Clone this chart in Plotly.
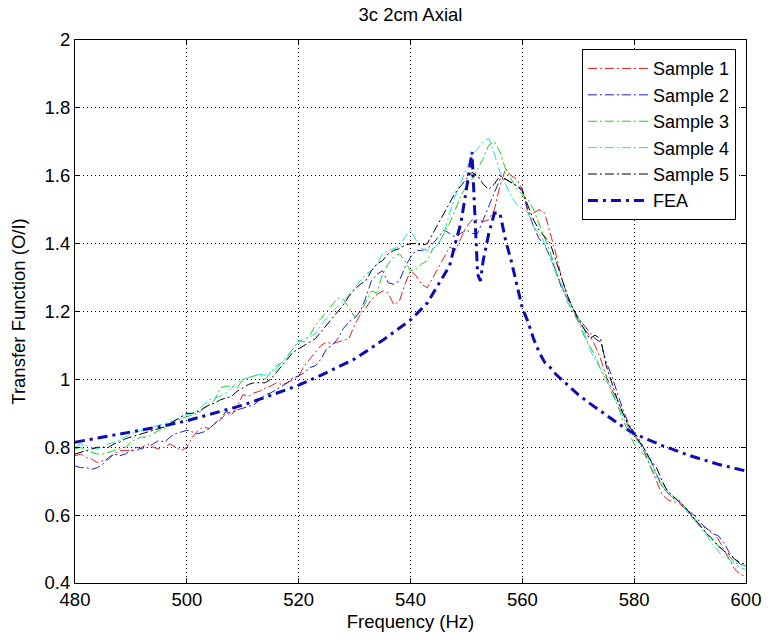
import plotly.graph_objects as go

# Measured frequency grid (Hz), 1 Hz steps
freq = list(range(480, 601))

sample_1 = [
    0.775, 0.78, 0.77, 0.765, 0.755, 0.76, 0.765, 0.78, 0.79, 0.79,
    0.79, 0.79, 0.80, 0.81, 0.80, 0.795, 0.80, 0.81, 0.80, 0.79,
    0.80, 0.83, 0.85, 0.86, 0.855, 0.87, 0.88, 0.90, 0.895, 0.92,
    0.955, 0.95, 0.96, 0.965, 0.975, 0.98, 0.99, 0.985, 0.99, 1.00,
    1.01, 1.04, 1.06, 1.08, 1.10, 1.11, 1.105, 1.11, 1.115, 1.12,
    1.16, 1.19, 1.21, 1.235, 1.25, 1.26, 1.255, 1.22, 1.23, 1.28,
    1.32, 1.305, 1.28, 1.27, 1.30, 1.33, 1.36, 1.39, 1.38, 1.415,
    1.45, 1.47, 1.47, 1.465, 1.47, 1.50, 1.57, 1.62, 1.60, 1.59,
    1.56, 1.49, 1.49, 1.50, 1.49, 1.43, 1.37, 1.30, 1.25, 1.21,
    1.17, 1.15, 1.13, 1.10, 1.06, 1.01, 0.97, 0.94, 0.90, 0.86,
    0.84, 0.81, 0.78, 0.74, 0.70, 0.66, 0.645, 0.64, 0.635, 0.62,
    0.60, 0.585, 0.57, 0.56, 0.55, 0.53, 0.50, 0.47, 0.44, 0.425,
    0.42,
]

sample_2 = [
    0.745, 0.74, 0.74, 0.735, 0.74, 0.75, 0.77, 0.78, 0.775, 0.78,
    0.79, 0.80, 0.795, 0.80, 0.81, 0.82, 0.815, 0.83, 0.84, 0.845,
    0.85, 0.845, 0.84, 0.845, 0.855, 0.87, 0.885, 0.905, 0.90, 0.91,
    0.915, 0.92, 0.925, 0.94, 0.955, 0.96, 0.97, 0.98, 0.99, 1.005,
    1.01, 1.02, 1.035, 1.04, 1.06, 1.09, 1.10, 1.12, 1.15, 1.17,
    1.18, 1.20, 1.24, 1.29, 1.31, 1.32, 1.285, 1.28, 1.29, 1.33,
    1.36, 1.38, 1.38, 1.385, 1.40, 1.42, 1.44, 1.43, 1.42, 1.43,
    1.44, 1.43, 1.43, 1.47, 1.51, 1.55, 1.59, 1.59, 1.58, 1.57,
    1.56, 1.50, 1.45, 1.415, 1.395, 1.36, 1.32, 1.27, 1.24, 1.21,
    1.18, 1.16, 1.14, 1.12, 1.11, 1.05, 1.01, 0.96, 0.91, 0.87,
    0.845, 0.82, 0.79, 0.76, 0.72, 0.685, 0.665, 0.65, 0.64, 0.625,
    0.61, 0.595, 0.575, 0.56, 0.545, 0.54, 0.52, 0.49, 0.47, 0.455,
    0.45,
]

sample_3 = [
    0.795, 0.80, 0.79, 0.785, 0.78, 0.78, 0.785, 0.79, 0.795, 0.80,
    0.815, 0.825, 0.83, 0.83, 0.84, 0.85, 0.855, 0.865, 0.875, 0.885,
    0.89, 0.895, 0.90, 0.915, 0.925, 0.94, 0.975, 0.98, 0.98, 0.975,
    1.00, 1.005, 1.01, 1.015, 1.00, 1.02, 1.04, 1.05, 1.07, 1.09,
    1.115, 1.11, 1.13, 1.16, 1.18, 1.20, 1.22, 1.24, 1.235, 1.21,
    1.185, 1.195, 1.23, 1.26, 1.255, 1.31, 1.34, 1.36, 1.37, 1.35,
    1.32, 1.325, 1.34, 1.35, 1.385, 1.40, 1.43, 1.46, 1.50, 1.54,
    1.57, 1.59, 1.62, 1.65, 1.69, 1.70, 1.67, 1.62, 1.59, 1.56,
    1.545, 1.53, 1.50, 1.46, 1.42, 1.375, 1.32, 1.28, 1.23, 1.20,
    1.17, 1.13, 1.10, 1.07, 1.03, 1.00, 0.96, 0.925, 0.88, 0.845,
    0.81, 0.79, 0.775, 0.74, 0.71, 0.685, 0.665, 0.65, 0.645, 0.625,
    0.605, 0.585, 0.565, 0.545, 0.525, 0.51, 0.495, 0.48, 0.46, 0.455,
    0.45,
]

sample_4 = [
    0.80, 0.81, 0.805, 0.80, 0.795, 0.80, 0.81, 0.815, 0.82, 0.83,
    0.84, 0.845, 0.85, 0.855, 0.86, 0.865, 0.87, 0.875, 0.88, 0.89,
    0.895, 0.90, 0.91, 0.925, 0.94, 0.945, 0.95, 0.96, 0.975, 0.99,
    1.00, 1.005, 1.01, 1.015, 1.012, 1.02, 1.03, 1.05, 1.065, 1.09,
    1.11, 1.12, 1.125, 1.135, 1.16, 1.18, 1.20, 1.215, 1.23, 1.25,
    1.27, 1.29, 1.31, 1.32, 1.34, 1.37, 1.38, 1.385, 1.39, 1.42,
    1.44, 1.41, 1.385, 1.38, 1.385, 1.40, 1.43, 1.49, 1.54, 1.58,
    1.62, 1.66, 1.68, 1.70, 1.71, 1.665, 1.61, 1.575, 1.54, 1.515,
    1.505, 1.49, 1.45, 1.43, 1.40, 1.36, 1.31, 1.28, 1.24, 1.21,
    1.18, 1.14, 1.09, 1.06, 1.03, 1.00, 0.965, 0.93, 0.89, 0.855,
    0.83, 0.81, 0.785, 0.75, 0.72, 0.695, 0.67, 0.655, 0.64, 0.62,
    0.60, 0.58, 0.56, 0.54, 0.515, 0.495, 0.475, 0.47, 0.455, 0.445,
    0.44,
]

sample_5 = [
    0.78, 0.785, 0.79, 0.795, 0.80, 0.80, 0.80, 0.81, 0.815, 0.825,
    0.83, 0.835, 0.84, 0.845, 0.85, 0.855, 0.86, 0.87, 0.88, 0.89,
    0.90, 0.90, 0.905, 0.915, 0.925, 0.93, 0.94, 0.945, 0.95, 0.965,
    0.975, 0.985, 0.99, 0.99, 0.99, 1.00, 1.02, 1.04, 1.06, 1.08,
    1.09, 1.10, 1.11, 1.12, 1.14, 1.16, 1.18, 1.20, 1.22, 1.245,
    1.265, 1.28, 1.29, 1.32, 1.34, 1.35, 1.37, 1.38, 1.385, 1.395,
    1.40, 1.40, 1.395, 1.40, 1.43, 1.46, 1.49, 1.52, 1.55, 1.57,
    1.59, 1.61, 1.60, 1.575, 1.56, 1.575, 1.60, 1.59, 1.58, 1.57,
    1.555, 1.51, 1.47, 1.44, 1.42, 1.40, 1.35, 1.30, 1.25, 1.21,
    1.18, 1.15, 1.12, 1.13, 1.12, 1.04, 0.99, 0.94, 0.90, 0.865,
    0.84, 0.815, 0.79, 0.76, 0.74, 0.70, 0.67, 0.655, 0.64, 0.625,
    0.605, 0.585, 0.565, 0.545, 0.53, 0.51, 0.495, 0.485, 0.47, 0.46,
    0.455,
]

# Finite element prediction
fea_freq = [480, 485, 490, 495, 500, 505, 510, 515, 520, 525, 530, 535,
            540, 543, 545, 547, 548, 549, 550, 551, 552, 552.5, 553, 554,
            555, 556, 557, 558, 559, 560, 561, 562, 563, 564, 565, 566,
            568, 570, 572, 575, 578, 580, 585, 590, 595, 600]
fea_tf = [0.815, 0.83, 0.843, 0.86, 0.878, 0.90, 0.924, 0.953, 0.983, 1.02,
          1.06, 1.115, 1.175, 1.225, 1.28, 1.335, 1.40, 1.46, 1.56, 1.67,
          1.31, 1.29, 1.35, 1.43, 1.49, 1.49, 1.41, 1.35, 1.28, 1.21,
          1.17, 1.12, 1.08, 1.05, 1.035, 1.015, 0.985, 0.955, 0.93, 0.895,
          0.86, 0.84, 0.805, 0.775, 0.75, 0.73]

labels = ["Sample 1", "Sample 2", "Sample 3", "Sample 4", "Sample 5", "FEA"]
colors = ["#e02020", "#2020c8", "#22cc22", "#22dede", "#000000", "#0c0cb0"]

x_ticks = [480, 500, 520, 540, 560, 580, 600]
y_ticks = [0.4, 0.6, 0.8, 1.0, 1.2, 1.4, 1.6, 1.8, 2.0]
y_tick_text = ["0.4", "0.6", "0.8", "1", "1.2", "1.4", "1.6", "1.8", "2"]

FONT = "Liberation Sans, Arial, sans-serif"
TEXT_SIZE = 18.5

fig = go.Figure()
for name, ys, col in zip(labels[:5], [sample_1, sample_2, sample_3, sample_4, sample_5], colors[:5]):
    fig.add_trace(go.Scatter(
        x=freq, y=ys, mode="lines", name=name,
        line=dict(color=col, width=1, dash="9px,3px,2px,3px"),
    ))

fig.add_trace(go.Scatter(
    x=fea_freq, y=fea_tf, mode="lines", name=labels[5],
    line=dict(color=colors[5], width=3, dash="10px,5px,3px,5px"),
))

axis_common = dict(
    showline=True, linecolor="black", linewidth=1, mirror="ticks",
    ticks="inside", ticklen=5, tickcolor="black",
    showgrid=True, gridcolor="black", gridwidth=1, griddash="1px,3px",
    zeroline=False,
    tickfont=dict(family=FONT, size=TEXT_SIZE, color="black"),
)

fig.update_xaxes(
    range=[480, 600], tickvals=x_ticks,
    title=dict(text="Frequency (Hz)", font=dict(family=FONT, size=TEXT_SIZE, color="black"), standoff=5),
    **axis_common,
)
fig.update_yaxes(
    range=[0.4, 2.0], tickvals=y_ticks, ticktext=y_tick_text,
    title=dict(text="Transfer Function (O/I)", font=dict(family=FONT, size=TEXT_SIZE, color="black"), standoff=14),
    **axis_common,
)

fig.update_layout(
    width=773, height=640,
    margin=dict(l=75, r=16, t=40, b=57),
    paper_bgcolor="white", plot_bgcolor="white",
    title=dict(text="3c 2cm Axial", x=0.5, xref="paper", y=1 - 15 / 640, yanchor="middle",
               font=dict(family=FONT, size=TEXT_SIZE, color="black")),
    legend=dict(
        x=0.985, xanchor="right", y=0.983, yanchor="top",
        bgcolor="white", bordercolor="black", borderwidth=1,
        font=dict(family=FONT, size=18, color="black"),
        itemwidth=60, tracegroupgap=0,
    ),
    showlegend=True,
)

fig.write_html("out.html")
